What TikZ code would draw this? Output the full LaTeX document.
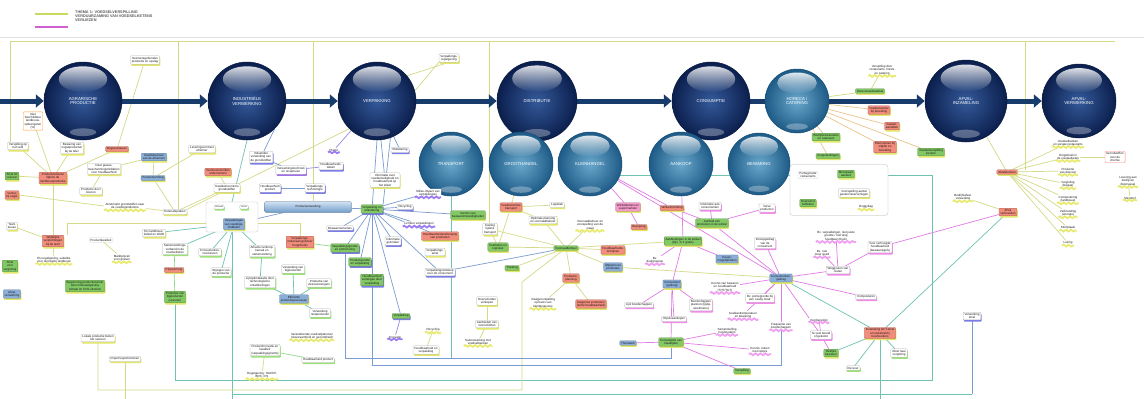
\documentclass[tikz,border=0pt]{standalone}
\usepackage{fontspec}
\setmainfont{Liberation Sans}
\usetikzlibrary{shadows,fadings,calc,decorations.pathmorphing,arrows.meta}
\pgfdeclarelayer{bg}\pgfdeclarelayer{edges}
\pgfsetlayers{bg,edges,main}
\definecolor{cY}{HTML}{D4DA86}
\definecolor{cT}{HTML}{6EC2B2}
\definecolor{cB}{HTML}{7A9CD0}
\definecolor{cM}{HTML}{E27AE6}
\definecolor{cG}{HTML}{8ED88E}
\definecolor{cO}{HTML}{E8C48A}
\definecolor{cV}{HTML}{9C86E8}
\definecolor{shG}{HTML}{9CE27A}
\definecolor{shY}{HTML}{E2E66A}
\definecolor{shB}{HTML}{7C7CE6}
\definecolor{shP}{HTML}{F08CE8}
\definecolor{shV}{HTML}{A070E8}
\definecolor{fR}{HTML}{F28C7C}
\definecolor{fG}{HTML}{82C865}
\definecolor{fB}{HTML}{8AAED8}
\definecolor{fK}{HTML}{F49AC8}
\definecolor{wY}{HTML}{E8EA72}
\definecolor{wV}{HTML}{9C7CF0}
\definecolor{wP}{HTML}{F0A0F0}
\definecolor{bT}{HTML}{D2E2F4}
\definecolor{bB}{HTML}{6F9CC8}
\definecolor{navyI}{HTML}{34599A}
\definecolor{navyO}{HTML}{0B1F4D}
\definecolor{navyB}{HTML}{081A3E}
\definecolor{tealI}{HTML}{6AA8CC}
\definecolor{tealO}{HTML}{1D5A86}
\definecolor{tealB}{HTML}{174F78}
\definecolor{arrC}{HTML}{173C6B}
\definecolor{legY}{HTML}{C8D860}
\definecolor{legM}{HTML}{D060D0}
\tikzfading[name=hlfade, top color=transparent!0, bottom color=transparent!100]
\tikzset{
  base/.style={font=\fontsize{3.0}{3.3}\selectfont, align=center, inner xsep=1.4pt, inner ysep=1.1pt, rounded corners=.8pt, text=black!90, line width=.25pt},
  sh/.style={drop shadow={fill=#1, opacity=1, shadow xshift=.8pt, shadow yshift=-1.7pt}},
  wg/.style={base, draw=black!30, fill=white, sh=shG},
  wy/.style={base, draw=black!30, fill=white, sh=shY},
  wb/.style={base, draw=black!30, fill=white, sh=shB},
  wp/.style={base, draw=black!30, fill=white, sh=shP},
  wv/.style={base, draw=black!30, fill=white, sh=shV},
  wn/.style={base, draw=black!20, fill=white},
  wo/.style={base, draw=orange!80, line width=.4pt, fill=white},
  rd/.style={base, draw=fR!70!black, fill=fR, sh=shY},
  gr/.style={base, draw=fG!70!black, fill=fG, sh=shY},
  grb/.style={base, draw=fG!70!black, fill=fG, sh=shB},
  bu/.style={base, draw=fB!70!black, fill=fB, sh=shY},
  pk/.style={base, draw=fK!70!black, fill=fK, sh=shY},
  wav/.style={base, fill=white, append after command={(\tikzlastnode.south west) edge[draw=#1, line width=1.8pt, decorate, decoration={snake, amplitude=.9pt, segment length=5pt}] (\tikzlastnode.south east)}},
  ctext/.style={text=white, font=\fontsize{4.3}{4.9}\selectfont, align=center, inner sep=0pt},
  eY/.style={draw=cY, line width=.7pt},
  eT/.style={draw=cT, line width=.7pt},
  eB/.style={draw=cB, line width=.7pt},
  eM/.style={draw=cM, line width=.7pt},
  eG/.style={draw=cG, line width=.7pt},
  eO/.style={draw=cO, line width=.7pt},
  eV/.style={draw=cV, line width=.7pt},
  marr/.style={draw=arrC, line width=5pt, -{Triangle[length=8pt,width=13pt]}},
  marrn/.style={draw=arrC, line width=5pt},
}
\newcommand\mkball[6]{%
  \node[circle, inner sep=0pt, minimum size={2*#4pt}, draw=#5B, line width=.5pt, inner color=#5I, outer color=#5O] (#1) at (#2,#3) {};
  \fill[white, path fading=hlfade, fill opacity=.85] ($(#1.center)+(0,-0.56*#4)$) ellipse [x radius={0.62*#4pt}, y radius={0.33*#4pt}];
  \fill[white, fill opacity=.3] ($(#1.center)+(0,0.8*#4)$) ellipse [x radius={0.34*#4pt}, y radius={0.1*#4pt}];
  \node[ctext] (#1t) at (#1) {#6};
}
\begin{document}
\begin{tikzpicture}[x=1pt,y=-1pt]
\begin{pgfonlayer}{bg}
\fill[white] (0,0) rectangle (1144,399);
\end{pgfonlayer}
\useasboundingbox (0,0) rectangle (1144,399);

% legend
\coordinate (lg1a) at (35,14); \coordinate (lg1b) at (68,14);
\coordinate (lg2a) at (35,27); \coordinate (lg2b) at (68,27);
\draw[line width=1.5pt, legY] (lg1a) -- (lg1b);
\draw[line width=1.5pt, legM] (lg2a) -- (lg2b);
\node[anchor=north west, font=\fontsize{3.8}{4.2}\selectfont\bfseries, text=black!65, align=left, inner sep=0pt] (legT) at (75,10.5) {THEMA 1: VOEDSELVERSPILLING\\VERDUURZAMING VAN VOEDSELKETENS\\VERLIEZEN};

% circles
\mkball{AGR}{83}{101}{39}{navy}{AGRARISCHE\\PRODUCTIE}
\mkball{IND}{247}{101}{39}{navy}{INDUSTRIËLE\\VERWERKING}
\mkball{VER}{377}{101}{39}{navy}{VERPAKKING}
\mkball{DIS}{537}{101}{40}{navy}{DISTRIBUTIE}
\mkball{CON}{711}{101}{39}{navy}{CONSUMPTIE}
\mkball{HOR}{797}{101}{32}{teal}{HORECA /\\CATERING}
\mkball{AFI}{966}{101}{41}{navy}{AFVAL-\\INZAMELING}
\mkball{AFV}{1079}{101}{37}{navy}{AFVAL-\\VERWERKING}
\mkball{TRA}{451}{164}{32}{teal}{TRANSPORT}
\mkball{GRO}{521}{164}{32}{teal}{GROOTHANDEL}
\mkball{KLE}{590}{164}{32}{teal}{KLEINHANDEL}
\mkball{AAN}{681}{164}{32}{teal}{AANKOOP}
\mkball{BEW}{759}{164}{31}{teal}{BEWARING}

% left group
\node[wo] (l1) at (33,121) {Niet\\beschikbare\\landbouw-\\opbrengsten\\(\%)};
\node[wy] (l2) at (18,146) {Verspilling op\\het veld};
\node[wy] (l3) at (72,148) {Bewaring van\\oogstproducten\\bij de teler};
\node[rd] (l4) at (117,149) {Oogstverliezen};
\node[wy] (l5) at (145,60) {Seizoensgebonden\\productie en opslag};
\node[bu] (l6) at (154,157) {Kwaliteitseisen\\van de afnemers};
\node[gr] (l7) at (12,176) {Afval tot\\veevoer};
\node[rd] (l8) at (53,178) {Productverliezen\\tijdens de\\landbouwproductie};
\node[wy] (l9) at (104,169) {Inzet gewas-\\beschermingsmiddelen\\voor houdbaarheid};
\node[bu] (l10) at (153,178) {Productvorming};
\node[rd] (l11) at (12,195) {Verlies\\bij oogst};
\node[wy] (l12) at (91,191) {Productie door\\boeren};
\node[wav=wY] (l13) at (125,206) {Afzetmarkt grondstoffen naar\\de voedingsindustrie};
\node[wy] (l14) at (175,212) {Ketenafspraken};
\node[wy] (l15) at (202,149) {Leveringscontract\\afnemer};
\node[rd] (l16) at (218,172) {Teeltvoorschriften\\ondernemers};
\node[wy] (l17) at (227,188) {Kwaliteitscontrole\\grondstoffen};
\node[wy] (l18) at (12,226) {Teelt-\\keuze};
\node[rd] (l19) at (53,241) {Wettelijke\\verplichtingen\\bij de teelt};
\node[wav=wY] (l20) at (54,260) {EU-regelgeving, subsidie\\voor duurzame landbouw};
\node[wn] (l21) at (101,240) {Productkwaliteit};
\node[wav=wY] (l22) at (122,258) {Marktprijzen\\voor granen};
\node[gr] (l23) at (85,286) {Begrenzing productieruimte\\door milieuwetgeving\\(nitraat en CO2-uitstoot)};
\node[wy] (l24) at (154,233) {EU-landbouw-\\beleid en GMO};
\node[wg] (l25) at (175,249) {Samenwerkings-\\verband in de\\voedselketen};
\node[rd] (l26) at (174,270) {Prijsvorming};
\node[gr] (l27) at (175,297) {Productie van\\bijproducten\\(veevoer)};
\node[gr] (l28) at (10,266) {Afval\\voor\\vergisting};
\node[bu] (l29) at (12,294) {Afval-\\verwerking};
\node[wy] (l30) at (98,338) {Lokale productie buiten\\het seizoen};
\node[wy] (l31) at (125,359) {Import/exportstromen};

% industriele verwerking
\node[base, draw=black!25, fill=white, rounded corners=2pt, minimum width=52pt, minimum height=30pt] (clF) at (232,217) {};
\node[wg, font=\fontsize{2.4}{2.7}\selectfont] (m1) at (219,207) {Inhoud};
\node[wg, font=\fontsize{2.4}{2.7}\selectfont] (m2) at (244,207) {Vorm};
\node[bu] (m3) at (234,224) {Verpakkingen\\van voedings-\\middelen};
\node[base, draw=fB!60!black, top color=bT, bottom color=bB, minimum width=87pt, minimum height=11pt, rounded corners=2pt] (m4) at (308,207) {Productverwerking};
\node[wb] (m5) at (261,157) {Industriële\\verwerking van\\de grondstoffen};
\node[wv] (m6) at (291,170) {Verwerkingstechniek\\en recepturen};
\node[wb] (m7) at (270,188) {Houdbaarheid\\product};
\node[wb] (m8) at (315,188) {Verpakkings-\\technologie};
\node[wb] (m9) at (331,166) {Houdbaarheids-\\datum};
\node[wg] (m10) at (210,252) {Consumenten-\\voorkeuren};
\node[wg] (m11) at (221,272) {Wijzigen van\\de productie};
\node[wg] (m12) at (262,251) {Afname verkoop-\\kanaal en\\samenwerking};
\node[wg] (m13) at (260,282) {Lijnoptimalisatie door\\technologische\\ontwikkelingen};
\node[wg] (m14) at (293,269) {Verwerking van\\bijproducten};
\node[wg] (m15) at (319,283) {Productie van\\vleesvervangers};
\node[bu] (m16) at (294,299) {Efficiënte\\productieprocessen};
\node[wg] (m17) at (320,313) {Verwerking\\restproducten};
\node[wav=wY] (m18) at (312,336) {Veranderende voedselpatronen\\(duurzaamheid en gezondheid)};
\node[wg] (m19) at (265,350) {Productinnovatie en\\kwaliteit\\(verpakkingsgrootte)};
\node[wg] (m20) at (318,360) {Houdbaarheid product};
\node[wav=wY] (m21) at (262,375) {Regelgeving: HACCP,\\BRC, IFS};

% verpakking
\node[grb] (v0) at (372,209) {Verpakking en\\etikettering};
\node[wy] (v1) at (385,180) {Informatie over\\voedselveiligheid en\\houdbaarheid op\\het etiket};
\node[wav=wV] (v2) at (428,193) {Milieu-impact van\\verpakkingen};
\node[wb] (v3) at (405,207) {Recycling};
\node[wav=wV] (v4) at (419,224) {Lichtere verpakkingen};
\node[wb] (v5) at (340,228) {Bewaarinstructies};
\node[rd] (v6) at (300,242) {Verpakkings-\\materiaal (gebruik/\\hergebruik)};
\node[grb] (v7) at (345,248) {Verpakkingsgrootte\\en portionering};
\node[grb] (v8) at (360,262) {Productgrootte\\en verpakking};
\node[grb] (v9) at (372,280) {Houdbaarheid\\verlengen door\\verpakking};
\node[wb] (v10) at (393,241) {Informatie\\gebruiker};
\node[wy] (v11) at (435,252) {Verpakkings-\\afval};
\node[wb] (v12) at (440,272) {Verpakkingsontwerp\\voor de consument};
\node[grb] (v13) at (401,316) {Verpakking};
\node[wav=wV] (v14) at (395,337) {Innovatie};
\node[wav=wY] (v15) at (433,330) {Recycling};
\node[wy] (v16) at (426,350) {Houdbaarheid en\\verpakking};
\node[gr] (v17) at (468,215) {Kennis van\\bewaaromstandigheden};
\node[rd] (v18) at (440,236) {Houdbaarheidsverlenging\\van producten};
\node[wav=wV] (v19) at (334,150) {Plastic};
\node[wb] (v20) at (400,150) {Etikettering};
\node[wy] (t1) at (449,58) {Verpakkings-\\regelgeving};

% distributie
\node[rd] (d1) at (511,207) {Voedselverlies\\transport};
\node[wy] (d2) at (557,205) {Logistiek};
\node[wy] (d3) at (543,220) {Optimale planning\\en voorraadbeheer};
\node[wy] (d4) at (490,229) {Koeling\\tijdens\\transport};
\node[gr] (d5) at (498,247) {Koelketen en\\logistiek};
\node[gr] (d6) at (512,268) {Tracking};
\node[gr] (d7) at (566,248) {Voorraadbeheer};
\node[wav=wY] (d8) at (590,225) {Voorraadbeheer en\\voorspelling van de\\vraag};
\node[rd] (d9) at (613,250) {Houdbaarheids-\\termijnen};
\node[bu] (d10) at (613,267) {Afprijzen en\\promoties};
\node[rd] (d11) at (571,278) {Productie-\\planning};
\node[rd] (d12) at (591,304) {Dagverse producten\\(korte houdbaarheid)};
\node[wav=wY] (d13) at (543,303) {Vraagvoorspelling\\op basis van\\klantgegevens};
\node[wy] (d14) at (487,301) {Overschotten\\verkopen};
\node[wy] (d15) at (487,324) {Aanbieden van\\overschotten};
\node[wav=wY] (d16) at (478,342) {Samenwerking met\\voedselbanken};

% kleinhandel / consumptie
\node[pk] (k1) at (628,207) {Winkelketens en\\supermarkten};
\node[rd] (k2) at (672,208) {Winkelinrichting};
\node[rd] (k3) at (639,227) {Beprijzing};
\node[wp] (k4) at (710,206) {Informatie aan\\consumenten};
\node[gr] (k5) at (712,223) {Aanbod van\\producten in de winkel};
\node[gr] (k6) at (683,241) {Aanbiedingen in de winkel\\(bijv. 1+1 gratis)};
\node[wp] (k7) at (767,208) {Verse\\producten};
\node[wp] (k8) at (765,243) {Inkoopgedrag\\van de\\consument};
\node[bu] (k9) at (727,259) {Keuze-\\mogelijkheden};
\node[wav=wP] (k10) at (655,260) {Bv.\\doelgroepen};
\node[bu] (k11) at (672,284) {Consument\\(gedrag)};
\node[bu] (k12) at (781,278) {Consumenten-\\gedrag};
\node[wav=wP] (k13) at (725,287) {Kennis van bewaren\\en houdbaarheid\\(THT/TGT)};
\node[wp] (k14) at (760,298) {Bv. portiegrootte bij\\een 'ready meal'};
\node[wp] (k15) at (639,305) {Lijst boodschappen};
\node[wp] (k16) at (701,305) {Boodschappen\\plannen (lijstje,\\weekmenu)};
\node[wp] (k17) at (674,319) {Impulsaankopen};
\node[wav=wP] (k18) at (743,315) {Koelkasttemperatuur\\en bewaring};
\node[wav=wP] (k19) at (727,331) {Samenstelling\\huishoudens};
\node[wav=wP] (k20) at (781,326) {Frequentie van\\boodschappen};
\node[bu] (k21) at (628,343) {Thuiswerk};
\node[gr] (k22) at (671,342) {Consumptie van\\maaltijden};
\node[wav=wP] (k23) at (760,350) {Kennis: koken\\met restjes};
\node[gr] (k24) at (742,371) {Verspilling};

% horeca
\node[wav=wY] (h1) at (882,70) {Verspilling door\\restaurants, hotels\\en catering};
\node[gr] (h2) at (870,91) {Horecavoedselafval};
\node[rd] (h3) at (879,110) {Voedselverlies\\bij bereiding};
\node[rd] (h4) at (892,126) {Gasten-\\aantallen};
\node[rd] (h5) at (885,147) {Etensresten bij\\uitgifte en\\bereiding};
\node[gr] (h6) at (931,152) {Voedselverspilling\\keuken};
\node[gr] (h7) at (826,137) {Bedrijfsrestaurants\\en cateraars};
\node[gr] (h8) at (828,156) {Zorginstellingen};

% right part
\node[base, draw=black!30, fill=white, rounded corners=3pt, minimum width=98pt, minimum height=51pt] (hF) at (839,190) {};
\node[wn] (r1) at (808,175) {Portiegrootte\\restaurants};
\node[gr] (r2) at (846,174) {Menukaart\\aanbod};
\node[wy] (r3) at (854,193) {Voorspelling aantal\\gasten/reserveringen};
\node[gr] (r4) at (808,203) {Overschot\\buffetten};
\node[wav=wY] (r5) at (866,207) {Doggybag};
\node[wav=wP] (r6) at (836,236) {Bv. verpakkingen, niet juiste\\grootte / niet lang\\houdbaar (thuis)};
\node[wav=wP] (r7) at (822,253) {Bv. niet\\meer goed};
\node[wp] (r8) at (880,247) {Voor verhoogde\\houdbaarheid\\(bewaarregels)};
\node[wp] (r9) at (838,270) {Weggooien van\\resten};
\node[wp] (r10) at (866,297) {Composteren};
\node[wav=wP] (r11) at (819,320) {Voorbereiden};
\node[wp] (r12) at (821,335) {Te veel bereid\\of gekookt};
\node[gr] (r13) at (831,353) {Restjes\\bewaren};
\node[wg] (r14) at (853,368) {Diervoer};
\node[rd] (r15) at (880,333) {Inzameling GFT-afval\\en restafval bij\\huishoudens};
\node[wg] (r16) at (899,353) {Afval naar\\vergisting};
\node[wb] (r17) at (972,316) {Verwerking\\afval};
\node[rd] (r18) at (1008,212) {Afval\\verbranden};
\node[wav=wY] (r19) at (963,197) {Bedrijfsafval-\\verwerking};
\node[rd] (r20) at (1007,172) {Afvalstromen};
\node[wav=wY] (r21) at (1068,143) {Voedselbanken\\en sociale restaurants};
\node[wav=wY] (r22) at (1068,157) {Hergebruik in\\de voedselketen};
\node[wav=wY] (r23) at (1068,171) {Productie\\van diervoer};
\node[wav=wY] (r24) at (1068,184) {Vergisting\\(biogas)};
\node[wav=wY] (r25) at (1068,199) {Compostering\\(landbouw)};
\node[wav=wY] (r26) at (1068,213) {Verbranding\\(energie)};
\node[wav=wY] (r27) at (1068,228) {Stortplaats};
\node[wav=wY] (r28) at (1068,243) {Lozing};
\node[wo, draw=red!50] (r29) at (1115,157) {Grondstoffen\\voor de\\chemie};
\node[wav=wY] (r30) at (1128,181) {Levering aan\\bedrijven\\(biomassa)};
\node[wav=wY] (r31) at (1130,198) {Meststof};

% ---------------- connectors ----------------
\begin{pgfonlayer}{edges}
\draw[gray!25, line width=.8pt] (0,37) -- (1144,37);
\coordinate (fT1) at (10,41); \coordinate (fT2) at (1115,41);
\coordinate (y178) at (178,41); \coordinate (y313) at (313,41);
\coordinate (y489) at (489,41); \coordinate (y1025) at (1025,41);
\draw[eY] (fT1) -- (fT2);
\draw[eY] (fT1) -- (fT1 |- l2.north);
\draw[eY] (y178) -- (y178 |- l14.north);
\draw[eY] (y313) -- (y313 |- m4.north);
\draw[eY] (y489) -- (y489 |- d4.north);
\draw[eY] (y1025) -- (y1025 |- r20.north);

% bottom lines
\coordinate (bot) at (0,399);
\coordinate (tA1) at (932,380); \coordinate (tA2) at (932,175); \coordinate (tA3) at (575,175);
\draw[eT] (l27.south) -- (l27.south |- tA1) -- (tA1) -- (tA2) -- (tA3);
\draw[eT] (clF.south) -- (clF.south |- bot);
\coordinate (tB1) at (233,394);
\draw[eT] (tB1) -- (tB1 -| r17.south);
\draw[eB] (r17.south) -- (r17.south |- tB1);
\draw[eT] (r15.south) -- (r15.south |- bot);
\coordinate (yb) at (0,390); \coordinate (yb2) at (522,390); \coordinate (yb3) at (522,282);
\draw[eY] (l30.south) -- (l30.south |- yb) -- (yb2) -- (yb3) -- (d7);
\draw[eY] (l31.south) -- (l31.south |- bot);
\coordinate (b1) at (0,358); \coordinate (b2) at (0,365);
\draw[eB] (v7.south) -- (v7.south |- b1) -- (b1 -| k22.south) -- (k22.south);
\draw[eT] (TRA.south) -- (TRA.south |- b1);
\draw[eB] (v9.south) -- (v9.south |- b2) -- (b2 -| k12.south) -- (k12.south);

% left yellow
\draw[eY] (l5) -- (l4);
\draw[eY] (l1) -- (l8);
\draw[eY] (l2) -- (l8);
\draw[eY] (l3) -- (l8);
\draw[eY] (l4) -- (l8);
\draw[eY] (l7) -- (l8);
\draw[eY] (l8) -- (l19);
\draw[eY] (l9) -- (l6);
\draw[eY] (l6) -- (l10);
\draw[eY] (l12) -- (l9);
\draw[eY] (l11.east) -- (l13.west);
\draw[eY] (l13) -- (l14);
\draw[eY] (l10) -- (l14);
\draw[eY] (l15) -- (l10);
\draw[eY] (l16) -- (l17);
\draw[eY] (l17) -- (l14);
\draw[eY] (VER.south west) -- (l14.north east);
\draw[eY] (l19) -- (l20);
\draw[eY] (l21) -- (l22);
\draw[eY] (l18) -- (l19);
\coordinate (yA) at (67,223);
\draw[eY] (l19.north -| yA) -- (yA) -- (yA -| v6) -- (v6.north);

% industriele verwerking
\draw[eT] (IND.south) -- (clF.north);
\draw[eB] (IND.south east) -- (m5);
\draw[eT] (m3) -- (l24);
\draw[eT] (m3) -- (l25);
\draw[eT] (m3) -- (m10);
\draw[eT] (m3) -- (m11);
\draw[eT] (m3) -- (m12);
\draw[eG] (l25) -- (l26);
\draw[eG] (l26) -- (l27);
\draw[eT] (m12) -- (m13);
\draw[eT] (m13) -- (m16);
\draw[eT] (m14) -- (m16);
\draw[eT] (m15) -- (m16);
\draw[eT] (m16) -- (m17);
\draw[eG] (m19) -- (m20);
\draw[eY] (m19) -- (m21);
\draw[eB] (m4) -- (m3);
\draw[eB] (m4) -- (v0);
\draw[eB] (m5) -- (m6);
\draw[eB] (m7) -- (m8);
\draw[eV] (m6) -- (m9);

% verpakking
\draw[eB] (VER.south) -- (v0);
\draw[eB] (VER.-70) -- (v0.north east);
\draw[eB] (VER) -- (v1);
\draw[eB] (VER) -- (v20);
\draw[eV] (VER) -- (v19);
\foreach \t in {v2,v3,v4,v5,v7,v8,v9,v10,v12,v13,v17,v18}{\draw[eB] (v0) -- (\t);}
\draw[eG] (v6) -- (v7);
\draw[eB] (v12) -- (d7);
\draw[eV] (v13) -- (v14);
\draw[eY] (v15) -- (v16);
\draw[eY] (t1.south) -- (VER.40);
\draw[eY] (t1.south west) -- (VER.15);

% distributie
\draw[eY] (GRO) -- (d1);
\draw[eY] (d1) -- (d2);
\draw[eY] (d1) -- (d3);
\draw[eY] (d1) -- (d5);
\draw[eY] (d4) -- (d5);
\draw[eY] (d4) -- (d7);
\foreach \t in {d3,d5,d6,d8,d9,d10,d11}{\draw[eY] (d7) -- (\t);}
\draw[eY] (d11) -- (d12);
\draw[eY] (d11) -- (d13);
\draw[eY] (d14) -- (d15);
\draw[eY] (d15) -- (d16);
\draw[eY] (d7) -- (k6);
\draw[eY] (d10) -- (k12);

% kleinhandel / consumptie
\draw[eM] (KLE) -- (k1);
\draw[eM] (KLE) -- (k2);
\draw[eM] (KLE) -- (k12);
\draw[eM] (AAN) -- (k6);
\draw[eM] (k1) -- (k3);
\draw[eM] (k2) -- (k5);
\draw[eM] (k4) -- (k5);
\draw[eM] (k7) -- (k5);
\draw[eM] (k5) -- (k12);
\draw[eM] (k6) -- (k10);
\draw[eM] (k6) -- (k11);
\draw[eM] (k6) -- (k9);
\foreach \t in {k15,k16,k17,k22}{\draw[eM] (k11) -- (\t);}
\foreach \t in {k21,k24,k19,k23}{\draw[eM] (k22) -- (\t);}
\foreach \t in {k8,k13,k14,k18,k20,r9,r10,r12}{\draw[eM] (k12) -- (\t);}
\draw[eM] (r9) -- (r6);
\draw[eM] (r9) -- (r7);
\draw[eM] (r9) -- (r8);
\draw[eM] (r8) -- (r18);
\draw[eM] (r12) -- (r13);
\draw[eM] (r11) -- (r12);
\draw[eT] (k12) -- (r15);
\draw[eT] (r15) -- (r18);
\draw[eT] (r15) -- (r13);
\draw[eT] (r15) -- (r14);
\draw[eT] (r15) -- (r16);

% afval
\draw[eY] (r19) -- (r18);
\draw[eY] (AFI) -- (r20);
\foreach \t in {r21,r22,r23,r24,r25,r26,r27,r28}{\draw[eY] (r20) -- (\t);}
\draw[eY] (r22) -- (r29);
\draw[eY] (r30) -- (r31);

% horeca
\foreach \t in {h3,h4,h5,h6,h7,h8}{\draw[eO] (HOR) -- (\t);}
\draw[eY] (HOR) -- (h2);
\draw[eY] (h1) -- (h2);

% main chain
\coordinate (a0) at (0,101);
\draw[marr] (a0) -- (AGR.west);
\draw[marr] (AGR.east) -- (IND.west);
\draw[marr] (IND.east) -- (VER.west);
\draw[marr] (VER.east) -- (DIS.west);
\draw[marr] (DIS.east) -- (CON.west);
\draw[marrn] (CON.east) -- (HOR.west);
\draw[marr] (HOR.east) -- (AFI.west);
\draw[marr] (AFI.east) -- (AFV.west);
\end{pgfonlayer}
\end{tikzpicture}
\end{document}
